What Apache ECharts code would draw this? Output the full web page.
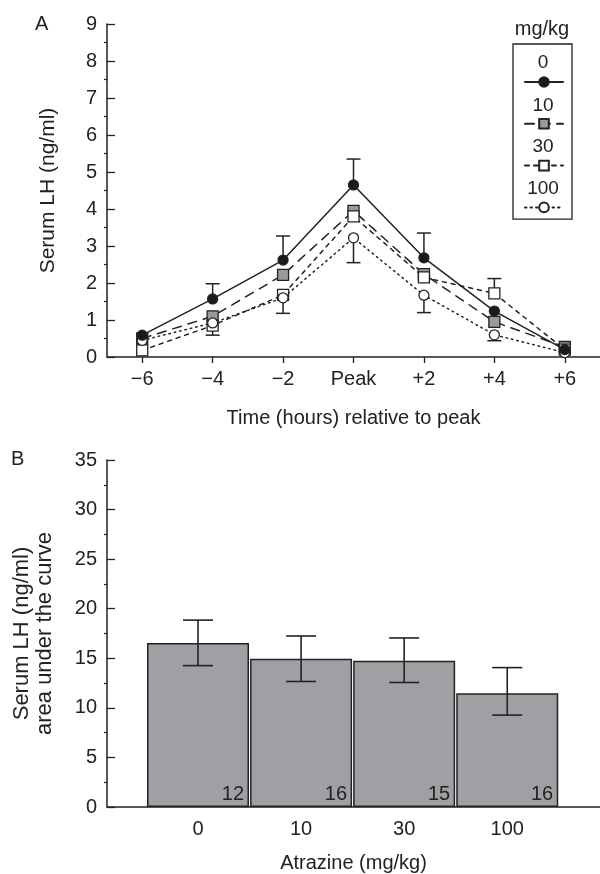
<!doctype html>
<html lang="en">
<head>
    <meta charset="utf-8" />
    <title>Serum LH</title>
    <script src="https://cdn.jsdelivr.net/npm/echarts@6/dist/echarts.min.js"></script>
    <style>
        html, body { margin: 0; padding: 0; background: #fff; }
        #chart { width: 600px; height: 874px; }
    </style>
</head>
<body>
<div id="chart"></div>
<script>
    // panel A: LH around the surge
    var timeLabels = ['\u22126', '\u22124', '\u22122', 'Peak', '+2', '+4', '+6'];
    var doseNames = ['0', '10', '30', '100'];
    var lh0 = [0.59, 1.57, 2.62, 4.65, 2.68, 1.24, 0.2];
    var lh10 = [0.5, 1.1, 2.22, 3.95, 2.24, 0.95, 0.27];
    var lh30 = [0.18, 0.85, 1.68, 3.8, 2.15, 1.72, 0.2];
    var lh100 = [0.45, 0.92, 1.6, 3.22, 1.67, 0.6, 0.12];
    // visible error bar ends
    var lh0Upper = [null, 1.98, 3.27, 5.35, 3.35, null, null];
    var lh30Upper = [null, null, null, null, null, 2.12, null];
    var lh100Lower = [null, 0.59, 1.18, 2.55, 1.2, 0.44, null];

    // panel B: area under the curve
    var doses = ['0', '10', '30', '100'];
    var auc = [16.55, 14.96, 14.76, 11.47];
    var aucUpper = [18.85, 17.25, 17.05, 14.06];
    var aucLower = [14.26, 12.66, 12.56, 9.27];
    var nRats = [12, 16, 15, 16];

    var FONT = "'Liberation Sans', Arial, sans-serif";
    var INK = '#222';

    function errData(means, ends) {
        var out = [];
        for (var i = 0; i < means.length; i++) {
            if (ends[i] != null) out.push([i, means[i], ends[i]]);
        }
        return out;
    }

    function renderLineErr(params, api) {
        var p1 = api.coord([api.value(0), api.value(1)]);
        var p2 = api.coord([api.value(0), api.value(2)]);
        var hw = 7;
        return {
            type: 'group',
            children: [
                { type: 'line', shape: { x1: p1[0], y1: p1[1], x2: p2[0], y2: p2[1] }, style: { stroke: INK, lineWidth: 1.5 } },
                { type: 'line', shape: { x1: p2[0] - hw, y1: p2[1], x2: p2[0] + hw, y2: p2[1] }, style: { stroke: INK, lineWidth: 1.5 } }
            ]
        };
    }

    function renderBarErr(params, api) {
        var lo = api.coord([api.value(0), api.value(1)]);
        var hi = api.coord([api.value(0), api.value(2)]);
        var hw = 15;
        var st = { stroke: INK, lineWidth: 1.6 };
        return {
            type: 'group',
            children: [
                { type: 'line', shape: { x1: lo[0], y1: lo[1], x2: hi[0], y2: hi[1] }, style: st },
                { type: 'line', shape: { x1: hi[0] - hw, y1: hi[1], x2: hi[0] + hw, y2: hi[1] }, style: st },
                { type: 'line', shape: { x1: lo[0] - hw, y1: lo[1], x2: lo[0] + hw, y2: lo[1] }, style: st }
            ]
        };
    }

    function lineSeries(name, data, symbol, fill, dash) {
        return {
            name: name,
            type: 'line',
            xAxisIndex: 0,
            yAxisIndex: 0,
            data: data,
            symbol: symbol,
            symbolSize: symbol == 'rect' ? 11 : 10,
            showSymbol: true,
            z: 3,
            itemStyle: { color: fill, borderColor: INK, borderWidth: 1.3 },
            lineStyle: { color: INK, width: 1.5, type: dash, cap: 'round' },
            emphasis: { disabled: true }
        };
    }

    var axisLineStyle = { lineStyle: { color: INK, width: 1.5 } };
    var labelStyle = { color: INK, fontSize: 20, fontFamily: FONT };

    var option = {
        animation: false,
        textStyle: { fontFamily: FONT, color: INK },
        grid: [
            { left: 107, right: 0, top: 24, height: 333 },
            { left: 107, right: 0, top: 460, height: 350 }
        ],
        xAxis: [
            {
                gridIndex: 0,
                type: 'category',
                data: timeLabels,
                boundaryGap: true,
                axisLine: axisLineStyle,
                axisTick: { show: true, alignWithLabel: true, length: 6, lineStyle: { color: INK, width: 1.3 } },
                axisLabel: { margin: 12, color: INK, fontSize: 20, fontFamily: FONT },
                name: 'Time (hours) relative to peak',
                nameLocation: 'middle',
                nameGap: 51,
                nameTextStyle: labelStyle,
                splitLine: { show: false }
            },
            {
                gridIndex: 1,
                type: 'value',
                min: 0.117,
                max: 4.9,
                axisLine: axisLineStyle,
                axisTick: { show: false },
                axisLabel: {
                    margin: 12, color: INK, fontSize: 20, fontFamily: FONT,
                    customValues: [1, 2, 3, 4],
                    formatter: function (v) { return doses[Math.round(v) - 1]; }
                },
                name: 'Atrazine (mg/kg)',
                nameLocation: 'middle',
                nameGap: 46,
                nameTextStyle: labelStyle,
                splitLine: { show: false }
            }
        ],
        yAxis: [
            {
                gridIndex: 0,
                type: 'value',
                min: 0,
                max: 9,
                interval: 1,
                axisLine: { show: true, lineStyle: { color: INK, width: 1.5 } },
                axisTick: { show: true, inside: true, length: 8, lineStyle: { color: INK, width: 1.3 } },
                minorTick: { show: true, splitNumber: 2, length: -3, lineStyle: { color: INK, width: 1.2 } },
                axisLabel: { margin: 10, color: INK, fontSize: 20, fontFamily: FONT },
                splitLine: { show: false },
                name: 'Serum LH (ng/ml)',
                nameLocation: 'middle',
                nameGap: 48,
                nameTextStyle: { color: INK, fontSize: 21, fontFamily: FONT }
            },
            {
                gridIndex: 1,
                type: 'value',
                min: 0,
                max: 35,
                interval: 5,
                axisLine: { show: true, lineStyle: { color: INK, width: 1.5 } },
                axisTick: { show: true, inside: true, length: 8, lineStyle: { color: INK, width: 1.3 } },
                minorTick: { show: true, splitNumber: 2, length: -3, lineStyle: { color: INK, width: 1.2 } },
                axisLabel: { margin: 10, color: INK, fontSize: 20, fontFamily: FONT },
                splitLine: { show: false },
                name: 'Serum LH (ng/ml)\narea under the curve',
                nameLocation: 'middle',
                nameGap: 51,
                nameTextStyle: { color: INK, fontSize: 22, fontFamily: FONT, lineHeight: 23 }
            }
        ],
        legend: {
            data: doseNames,
            orient: 'vertical',
            left: 513,
            top: 44,
            padding: [32, 8, 6, 11],
            itemWidth: 38,
            itemHeight: 12,
            itemGap: 30,
            borderColor: INK,
            borderWidth: 1.3,
            selectedMode: false,
            formatter: function () { return ''; }
        },
        graphic: [
            { type: 'text', left: 35, top: 14, style: { text: 'A', fontSize: 20, fontFamily: FONT, fill: INK } },
            { type: 'text', left: 11, top: 449, style: { text: 'B', fontSize: 20, fontFamily: FONT, fill: INK } },
            { type: 'text', x: 542, y: 29, style: { text: 'mg/kg', fontSize: 20, fontFamily: FONT, fill: INK, align: 'center', verticalAlign: 'middle' } },
            { type: 'text', x: 543, y: 63, style: { text: doseNames[0], fontSize: 19, fontFamily: FONT, fill: INK, align: 'center', verticalAlign: 'middle' } },
            { type: 'text', x: 543, y: 106, style: { text: doseNames[1], fontSize: 19, fontFamily: FONT, fill: INK, align: 'center', verticalAlign: 'middle' } },
            { type: 'text', x: 543, y: 147, style: { text: doseNames[2], fontSize: 19, fontFamily: FONT, fill: INK, align: 'center', verticalAlign: 'middle' } },
            { type: 'text', x: 543, y: 189, style: { text: doseNames[3], fontSize: 19, fontFamily: FONT, fill: INK, align: 'center', verticalAlign: 'middle' } }
        ],
        series: [
            {
                type: 'custom',
                xAxisIndex: 0,
                yAxisIndex: 0,
                renderItem: renderLineErr,
                data: errData(lh0, lh0Upper).concat(errData(lh30, lh30Upper), errData(lh100, lh100Lower)),
                z: 1,
                silent: true
            },
            lineSeries('10', lh10, 'rect', '#9a9a9e', [9, 7]),
            lineSeries('30', lh30, 'rect', '#fff', [4, 5]),
            lineSeries('100', lh100, 'circle', '#fff', [1.5, 4]),
            lineSeries('0', lh0, 'circle', '#1a1a1a', 'solid'),
            {
                type: 'bar',
                xAxisIndex: 1,
                yAxisIndex: 1,
                barWidth: 102,
                data: auc.map(function (v, i) { return [i + 1, v]; }),
                itemStyle: { color: '#a0a0a4', borderColor: INK, borderWidth: 1.5 },
                label: {
                    show: true,
                    position: 'insideBottomRight',
                    distance: 5,
                    offset: [0, 2],
                    color: INK,
                    fontSize: 20,
                    fontFamily: FONT,
                    formatter: function (p) { return String(nRats[p.dataIndex]); }
                },
                emphasis: { disabled: true },
                z: 2
            },
            {
                type: 'custom',
                xAxisIndex: 1,
                yAxisIndex: 1,
                renderItem: renderBarErr,
                data: auc.map(function (v, i) { return [i + 1, aucLower[i], aucUpper[i]]; }),
                z: 3,
                silent: true
            }
        ]
    };

    var chart = echarts.init(document.getElementById('chart'));
    chart.setOption(option);
</script>
</body>
</html>
